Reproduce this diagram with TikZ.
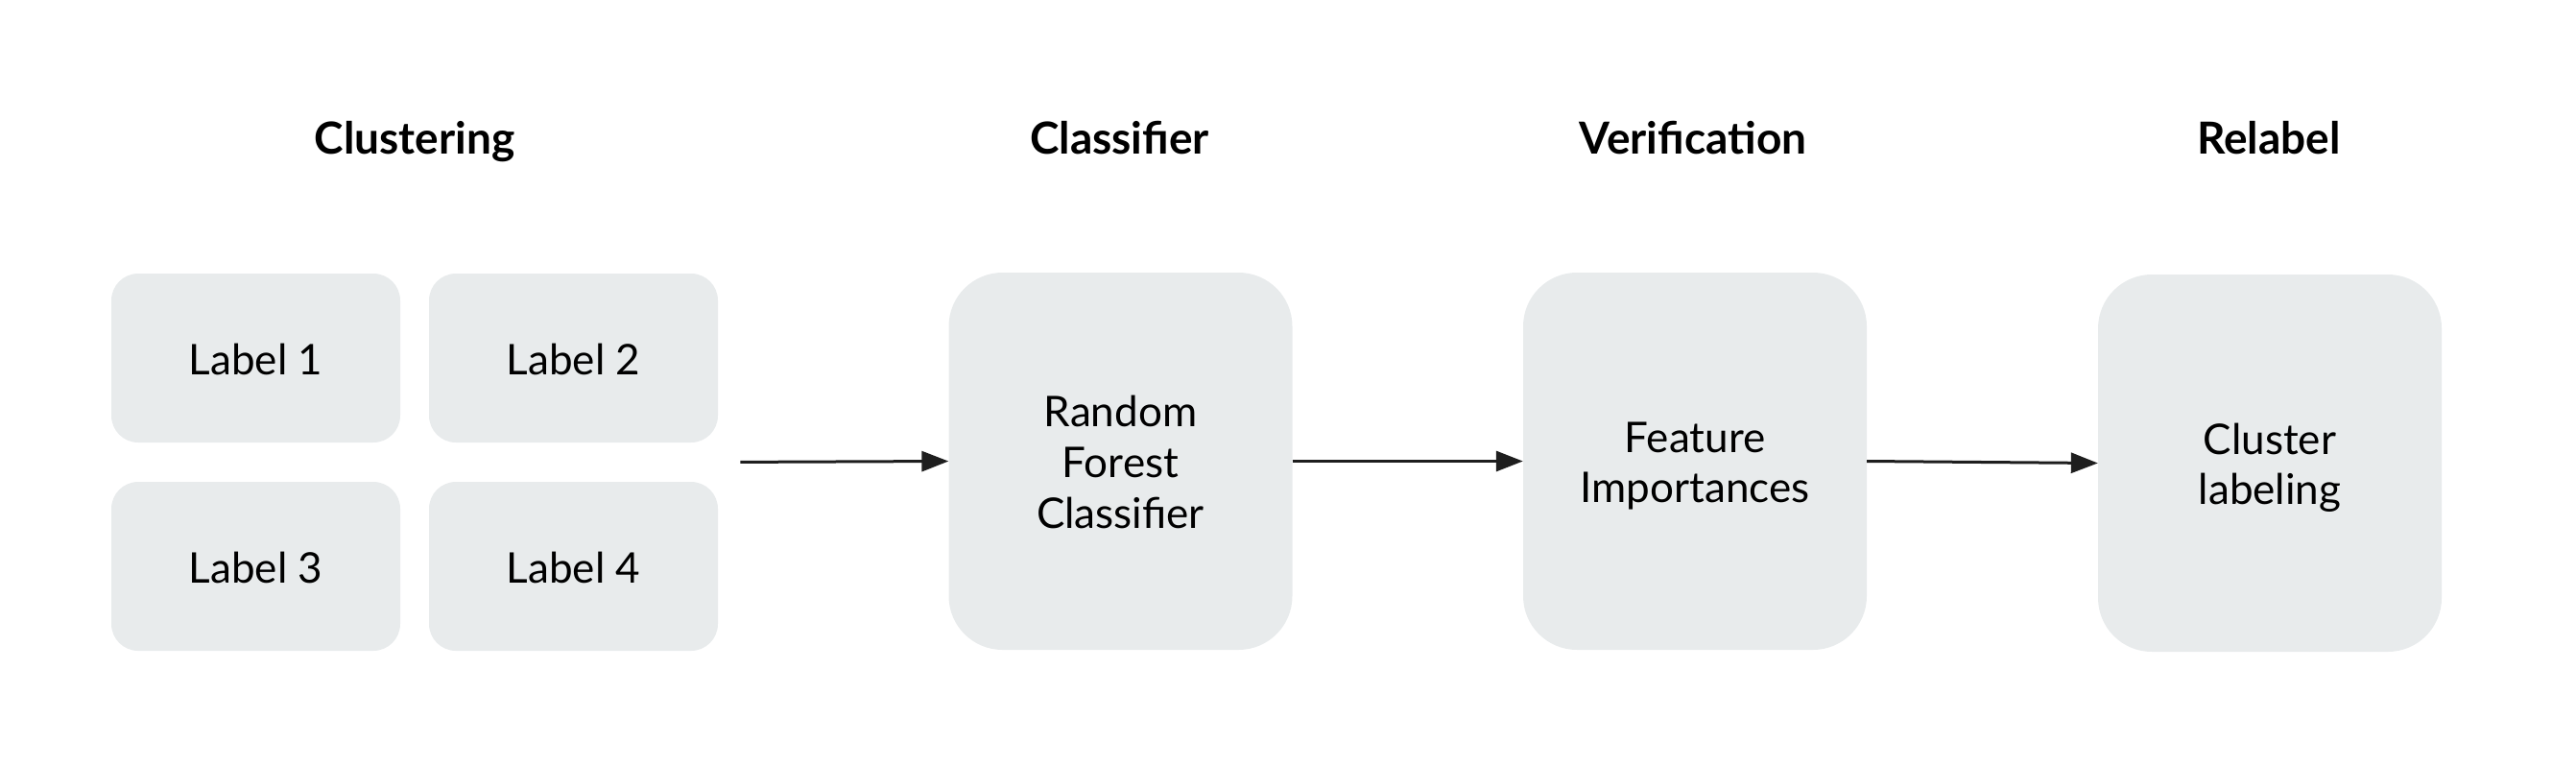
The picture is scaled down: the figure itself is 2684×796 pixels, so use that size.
\documentclass[tikz,border=0pt]{standalone}
\usepackage{fontspec}
\setmainfont{Lato}
\usetikzlibrary{arrows.meta,fit}
\definecolor{boxfill}{HTML}{E8EBEC}
\definecolor{arrowcol}{HTML}{1E1E1E}
\newcommand\lstrut{\rule[-9.4pt]{0pt}{52.8pt}}
\tikzset{
  txt/.style={font=\fontsize{44}{52.8}\selectfont, text=black, align=center},
  smallbox/.style={txt, fill=boxfill, rounded corners=28pt, minimum width=301pt, minimum height=176pt, inner sep=0pt},
  bigbox/.style={txt, fill=boxfill, rounded corners=56pt, minimum width=358pt, minimum height=393pt, inner sep=0pt},
  title/.style={font=\fontsize{46}{55}\selectfont\bfseries, text=black, anchor=base, inner sep=0pt},
  flow/.style={draw=arrowcol, line width=3pt, -{Triangle[length=28pt,width=21pt]}}
}
\begin{document}
\begin{tikzpicture}[x=1pt,y=-1pt]
\useasboundingbox (0,0) rectangle (2684,796);
% clustering labels
\node[smallbox] (l1) at (266.5,373) {\lstrut Label 1};
\node[smallbox] (l2) at (597.5,373) {\lstrut Label 2};
\node[smallbox] (l3) at (266.5,590) {\lstrut Label 3};
\node[smallbox] (l4) at (597.5,590) {\lstrut Label 4};
\node[fit=(l1)(l2)(l3)(l4), inner sep=0pt] (grp) {};
% main boxes
\node[bigbox] (rf) at (1167.5,480.5) {\lstrut Random\\\lstrut Forest\\\lstrut Classifier};
\node[bigbox] (fi) at (1766,480.5) {\lstrut Feature\\\lstrut Importances};
\node[bigbox] (cl) at (2365,482.5) {\lstrut Cluster\\\lstrut labeling};
% titles
\node[title] (t1) at (432,160) {Clustering};
\node[title] (t2) at (1166.5,160) {Classifier};
\node[title] (t3) at (1764,160) {Verification};
\node[title] (t4) at (2364,160) {Relabel};
% arrows
\draw[flow, shorten <=23pt] (grp.east) -- (rf.west);
\draw[flow] (rf.east) -- (fi.west);
\draw[flow] (fi.east) -- (cl.west);
\end{tikzpicture}
\end{document}
